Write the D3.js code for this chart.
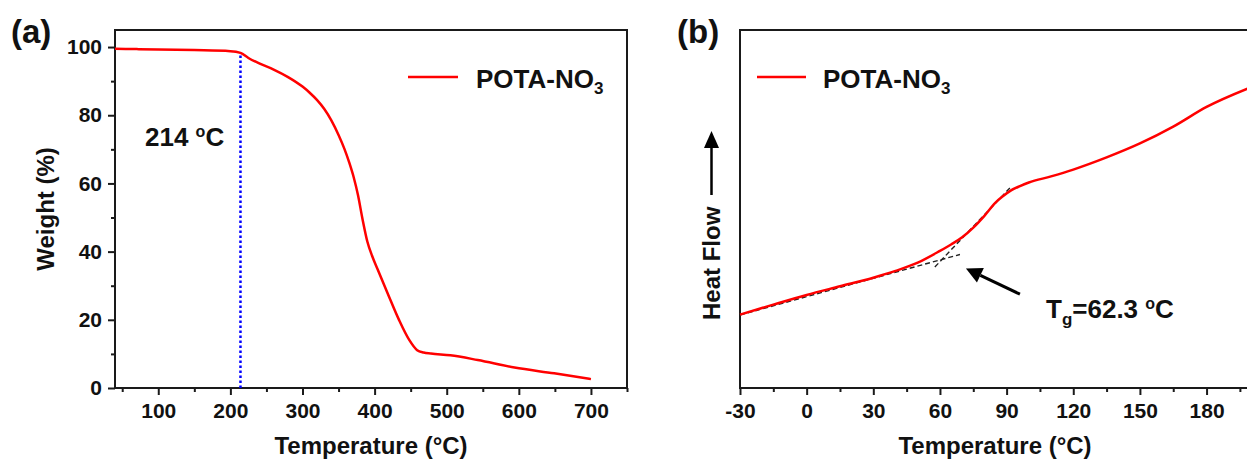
<!DOCTYPE html>
<html>
<head>
<meta charset="utf-8">
<script src="https://cdn.jsdelivr.net/npm/d3@7"></script>
<style>
  html, body { margin: 0; padding: 0; background: #fff; }
  svg { display: block; font-family: "Liberation Sans", Arial, sans-serif; font-weight: bold; }
</style>
</head>
<body>
<script>
// ---------- DATA ----------
// (a) TGA
const tgaTemp   = [40, 70, 100, 150, 200, 214, 225, 240, 260, 280, 300, 310, 320, 330, 340, 350, 358, 365, 371, 377, 383, 390, 397, 404, 418, 434, 448, 459, 468, 478, 505, 543, 594, 649, 700];
const tgaWeight = [99.5, 99.4, 99.3, 99.1, 98.8, 98.3, 96.8, 95.2, 93.4, 91.2, 88.4, 86.6, 84.5, 81.9, 78.5, 74.2, 70.2, 66.0, 61.8, 56.5, 49.8, 42.9, 38.5, 34.9, 27.8, 19.9, 14.1, 11.1, 10.4, 10.1, 9.6, 8.2, 6.0, 4.3, 2.6];
const tgaXTicks = [100, 200, 300, 400, 500, 600, 700];
const tgaXMinor = [50, 150, 250, 350, 450, 550, 650, 750];
const tgaYTicks = [0, 20, 40, 60, 80, 100];
const tgaYMinor = [10, 30, 50, 70, 90];
const onsetTemp = 214;
const onsetWeight = 98.3;

// (b) DSC (heat flow in arbitrary units)
const dscTemp = [-30, -15, 0, 15, 30, 40, 50, 60, 65, 70, 75, 80, 85, 88, 92, 96, 100, 110, 120, 135, 150, 165, 180, 200];
const dscHeat = [20.5, 23.3, 26.0, 28.4, 30.8, 32.7, 35.0, 38.3, 40.1, 42.1, 44.8, 48.1, 51.8, 53.4, 55.2, 56.4, 57.4, 59.1, 61.0, 64.4, 68.3, 73.0, 78.5, 84.0];
const dscXTicks = [-30, 0, 30, 60, 90, 120, 150, 180];
const dscXMinor = [-15, 15, 45, 75, 105, 135, 165, 195];
const baseTangentT = [-30, 69];
const baseTangentV = [20.4, 37.3];
const stepTangentT = [57.7, 91.5];
const stepTangentV = [33.8, 55.9];
const tgArrowT = [96, 71.7];
const tgArrowV = [26.2, 33.4];

const seriesName = "POTA-NO";
const seriesSub = "3";

// ---------- DRAW ----------
const svg = d3.select("body").append("svg").attr("width", 1247).attr("height", 462);

const RED = "#ff0000";
const AX = "#1a1a1a";

function arrowHead(g, x1, y1, x2, y2, len, half) {
  const ang = Math.atan2(y2 - y1, x2 - x1);
  const bx = x2 - len * Math.cos(ang), by = y2 - len * Math.sin(ang);
  const px = -Math.sin(ang) * half, py = Math.cos(ang) * half;
  g.append("path")
    .attr("d", `M${x2},${y2}L${bx + px},${by + py}L${bx - px},${by - py}Z`)
    .attr("fill", "#000");
  return [bx, by];
}

const fmt = d => String(d);

function axes(g, x, y, xt, xm, yt, ym, x0, x1, y0, y1) {
  const xa = g.append("g").attr("transform", `translate(0,${y0})`)
    .call(d3.axisBottom(x).tickValues(xt).tickFormat(fmt).tickSize(7).tickPadding(8).tickSizeOuter(0));
  const xb = g.append("g").attr("transform", `translate(0,${y0})`)
    .call(d3.axisBottom(x).tickValues(xm).tickSize(4).tickFormat("").tickSizeOuter(0));
  let ya = null, yb = null;
  if (yt) {
    ya = g.append("g").attr("transform", `translate(${x0},0)`)
      .call(d3.axisLeft(y).tickValues(yt).tickFormat(fmt).tickSize(7).tickPadding(6).tickSizeOuter(0));
    yb = g.append("g").attr("transform", `translate(${x0},0)`)
      .call(d3.axisLeft(y).tickValues(ym).tickSize(4).tickFormat("").tickSizeOuter(0));
  }
  [xa, xb, ya, yb].forEach(a => {
    if (!a) return;
    a.select(".domain").remove();
    a.selectAll("line").attr("stroke", AX).attr("stroke-width", 2);
    a.selectAll("text").attr("font-family", "Liberation Sans, Arial, sans-serif")
      .attr("font-weight", "bold").attr("font-size", 21).attr("fill", "#111");
  });
  g.append("rect").attr("x", x0).attr("y", y1).attr("width", x1 - x0).attr("height", y0 - y1)
    .attr("fill", "none").attr("stroke", AX).attr("stroke-width", 2);
}

function legend(g, lx0, lx1, ly, tx, ty) {
  g.append("line").attr("x1", lx0).attr("x2", lx1).attr("y1", ly).attr("y2", ly)
    .attr("stroke", RED).attr("stroke-width", 2.5);
  const t = g.append("text").attr("x", tx).attr("y", ty).attr("font-size", 26).attr("fill", "#111");
  t.append("tspan").text(seriesName);
  t.append("tspan").attr("dy", 6).attr("font-size", 17).text(seriesSub);
}

// ===== Panel (a) =====
const gA = svg.append("g");
const xA = d3.scaleLinear().domain([40, 750]).range([115, 627]);
const yA = d3.scaleLinear().domain([0, 105]).range([388, 30]);

axes(gA, xA, yA, tgaXTicks, tgaXMinor, tgaYTicks, tgaYMinor, 115, 627, 388, 30);

gA.append("line")
  .attr("x1", xA(onsetTemp)).attr("x2", xA(onsetTemp))
  .attr("y1", yA(0)).attr("y2", yA(onsetWeight))
  .attr("stroke", "#0000ff").attr("stroke-width", 2.5).attr("stroke-dasharray", "2.5,2.5");

const lineA = d3.line().x((d, i) => xA(tgaTemp[i])).y(d => yA(d)).curve(d3.curveMonotoneX);
gA.append("path").datum(tgaWeight).attr("d", lineA)
  .attr("fill", "none").attr("stroke", RED).attr("stroke-width", 2.5);

const onT = gA.append("text").attr("x", 145).attr("y", 146).attr("font-size", 26).attr("fill", "#111");
onT.append("tspan").text(onsetTemp + " ");
onT.append("tspan").attr("dy", -9).attr("font-size", 16).text("o");
onT.append("tspan").attr("dy", 9).text("C");

legend(gA, 408, 458, 77, 476, 88);

gA.append("text").attr("x", 371).attr("y", 454).attr("text-anchor", "middle")
  .attr("font-size", 24).attr("fill", "#111").text("Temperature (°C)");
gA.append("text").attr("transform", "translate(54,209) rotate(-90)").attr("text-anchor", "middle")
  .attr("font-size", 24).attr("fill", "#111").text("Weight (%)");
gA.append("text").attr("x", 11).attr("y", 43).attr("font-size", 33).attr("fill", "#111").text("(a)");

// ===== Panel (b) =====
const gB = svg.append("g");
const xB = d3.scaleLinear().domain([-30, 200]).range([740, 1251]);
const yB = d3.scaleLinear().domain([0, 100]).range([388, 30]);

axes(gB, xB, yB, dscXTicks, dscXMinor, null, null, 740, 1251, 388, 30);

const tanLine = d3.line().x((d, i) => xB(d[0])).y(d => yB(d[1]));
[[baseTangentT, baseTangentV], [stepTangentT, stepTangentV]].forEach(([T, V]) => {
  gB.append("path").datum(T.map((t, i) => [t, V[i]])).attr("d", tanLine)
    .attr("fill", "none").attr("stroke", "#222").attr("stroke-width", 1.4)
    .attr("stroke-dasharray", "5,3");
});

const lineB = d3.line().x((d, i) => xB(dscTemp[i])).y(d => yB(d)).curve(d3.curveMonotoneX);
gB.append("path").datum(dscHeat).attr("d", lineB)
  .attr("fill", "none").attr("stroke", RED).attr("stroke-width", 2.5);

// Tg arrow
{
  const ax1 = xB(tgArrowT[0]), ay1 = yB(tgArrowV[0]), ax2 = xB(tgArrowT[1]), ay2 = yB(tgArrowV[1]);
  const [bx, by] = arrowHead(gB, ax1, ay1, ax2, ay2, 16, 8);
  gB.append("line").attr("x1", ax1).attr("y1", ay1).attr("x2", bx).attr("y2", by)
    .attr("stroke", "#000").attr("stroke-width", 3);
}
const tg = gB.append("text").attr("x", 1046).attr("y", 318).attr("font-size", 26).attr("fill", "#111");
tg.append("tspan").text("T");
tg.append("tspan").attr("dy", 7).attr("font-size", 17).text("g");
tg.append("tspan").attr("dy", -7).text("=62.3 ");
tg.append("tspan").attr("dy", -9).attr("font-size", 16).text("o");
tg.append("tspan").attr("dy", 9).text("C");

legend(gB, 757, 806, 77, 823, 88);

gB.append("text").attr("x", 995).attr("y", 454).attr("text-anchor", "middle")
  .attr("font-size", 24).attr("fill", "#111").text("Temperature (°C)");
gB.append("text").attr("transform", "translate(720,320) rotate(-90)").attr("text-anchor", "start")
  .attr("font-size", 24).attr("fill", "#111").text("Heat Flow");
{
  const [bx, by] = arrowHead(gB, 711.5, 195, 711.5, 131, 17, 7.5);
  gB.append("line").attr("x1", 711.5).attr("y1", 195).attr("x2", bx).attr("y2", by)
    .attr("stroke", "#000").attr("stroke-width", 2.5);
}
gB.append("text").attr("x", 677).attr("y", 43).attr("font-size", 33).attr("fill", "#111").text("(b)");
</script>
</body>
</html>
